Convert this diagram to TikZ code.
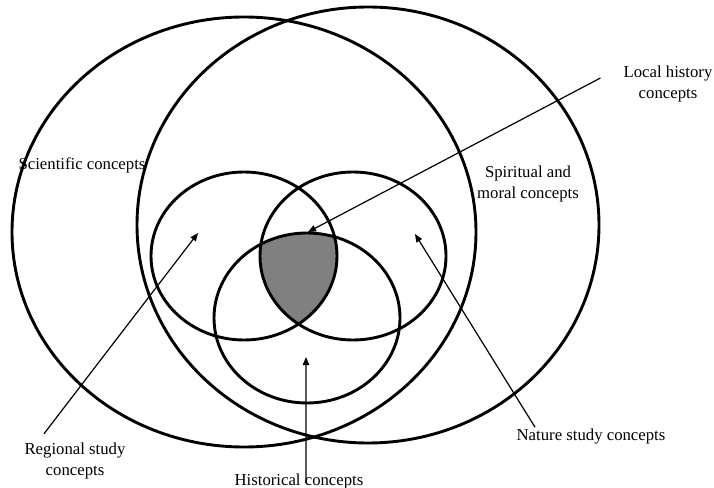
\documentclass[tikz,border=0pt]{standalone}
\usepackage{fontspec}
\setmainfont{Liberation Serif}
\usetikzlibrary{positioning,arrows.meta}

\begin{document}
\begin{tikzpicture}[
    x=1bp, y=-1bp,
    ring/.style={line width=2.9bp},
    lbl/.style={font=\fontsize{16.8}{21}\selectfont, align=center, inner sep=1bp},
    arr/.style={-{Triangle[length=8bp,width=6.5bp]}, line width=1.2bp}
]
\useasboundingbox (0,0) rectangle (714,488);

% ===== Shaded core: inside all three small circles =====
\begin{scope}
  \clip (244,256) ellipse [x radius=93, y radius=84];
  \clip (353,256) ellipse [x radius=93, y radius=84];
  \fill[black!50] (307,318) ellipse [x radius=93, y radius=85];
\end{scope}

% ===== Big circles =====
\draw[ring] (244,232) ellipse [x radius=232, y radius=215];
\draw[ring] (368,225) ellipse [x radius=231, y radius=218];

% ===== Small circles =====
\draw[ring] (244,256) ellipse [x radius=93, y radius=84];
\draw[ring] (353,256) ellipse [x radius=93, y radius=84];
\draw[ring] (307,318) ellipse [x radius=93, y radius=85];

% Labels
\node[lbl] (sci) at (82,165) {Scientific concepts};
\node[lbl] (spir) at (528,184) {Spiritual and\\moral concepts};
\node[lbl] (local) at (668,84) {Local history\\concepts};
\node[lbl] (regional) at (75,461) {Regional study\\concepts};
\node[lbl] (hist) at (299,481) {Historical concepts};
\node[lbl] (nature) at (591,436) {Nature study concepts};

% Arrow heads
\coordinate (lochead) at (308,232);
\coordinate (reghead) at (198,233);
\coordinate (nathead) at (415,234);
\coordinate (histhead) at (306,357);

% Arrows
\draw[arr] ([xshift=-22bp,yshift=6bp]local.west) -- (lochead);
\draw[arr] ([xshift=-31bp,yshift=8bp]regional.north) -- (reghead);
\draw[arr] ([xshift=-56bp]nature.north) -- (nathead);
\draw[arr] ([xshift=7bp,yshift=-2bp]hist.center) -- (histhead);

\end{tikzpicture}
\end{document}
